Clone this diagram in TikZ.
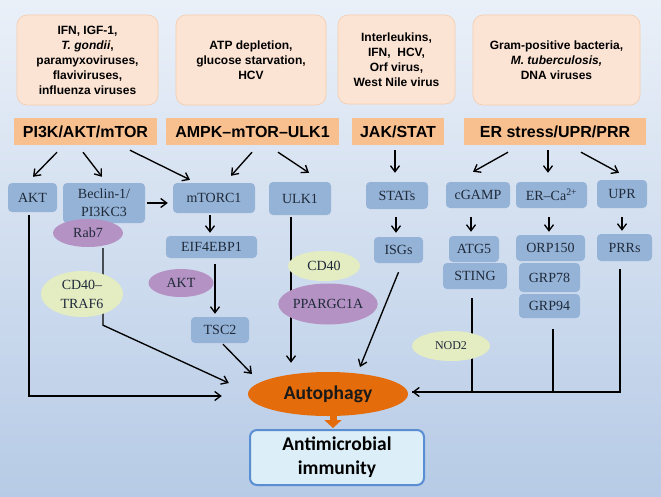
\documentclass[tikz,border=0pt]{standalone}
\usepackage{fontspec}
\setmainfont{Liberation Serif}
\newfontfamily\arialf{Liberation Sans}
\newfontfamily\calibf{Carlito}
\usetikzlibrary{arrows.meta,shapes.geometric}
\definecolor{bgtop}{HTML}{EAF0F8}
\definecolor{bgbot}{HTML}{B7CBE6}
\definecolor{srcfill}{HTML}{FCE4D4}
\definecolor{srcborder}{HTML}{F4CBAE}
\definecolor{barfill}{HTML}{F9C08F}
\definecolor{boxblue}{HTML}{95B3D7}
\definecolor{purp}{HTML}{B592C4}
\definecolor{ygreen}{HTML}{E4ECC2}
\definecolor{autoorange}{HTML}{E46C0A}
\definecolor{immfill}{HTML}{DCEEF7}
\definecolor{immborder}{HTML}{5A8ED3}
\definecolor{boxtext}{HTML}{1F2A3A}
\begin{document}
\begin{tikzpicture}[x=1pt,y=-1pt,
  src/.style={draw=srcborder, fill=srcfill, rounded corners=10pt, line width=0.6pt, align=center,
    font=\arialf\bfseries\fontsize{12}{15}\selectfont, inner sep=0pt},
  bar/.style={fill=barfill, font=\arialf\bfseries\fontsize{16}{19}\selectfont, inner sep=0pt},
  bbox/.style={fill=boxblue, rounded corners=4pt, font=\fontsize{14}{18}\selectfont, inner sep=0pt, align=center, text=boxtext},
  ellp/.style={ellipse, fill=purp, inner sep=0pt, font=\fontsize{14}{18}\selectfont, align=center, text=boxtext},
  elly/.style={ellipse, fill=ygreen, inner sep=0pt, font=\fontsize{14}{19}\selectfont, align=center, text=boxtext},
  arr/.style={-{Straight Barb[length=6pt,width=9pt]}, line width=1.35pt},
  ln/.style={line width=1.35pt}
]
\shade[top color=bgtop, bottom color=bgbot] (0,0) rectangle (661,496);
\useasboundingbox (0,0) rectangle (661,496);

% source boxes
\node[src, minimum width=141pt, minimum height=90pt] (s1) at (87.5,60)
  {IFN, IGF-1,\\\textit{T. gondii},\\paramyxoviruses,\\flaviviruses,\\influenza viruses};
\node[src, minimum width=150pt, minimum height=90pt] (s2) at (251,60)
  {ATP depletion,\\glucose starvation,\\HCV};
\node[src, minimum width=117pt, minimum height=89pt] (s3) at (396.5,59.5)
  {Interleukins,\\IFN,~~HCV,\\Orf virus,\\West Nile virus};
\node[src, minimum width=167pt, minimum height=90pt] (s4) at (556.5,60)
  {Gram-positive bacteria,\\\textit{M. tuberculosis,}\\DNA viruses};

% pathway bars
\node[bar, minimum width=143pt, minimum height=27pt] (b1) at (85.5,131.5) {PI3K/AKT/mTOR};
\node[bar, minimum width=173pt, minimum height=27pt] (b2) at (252.5,131.5) {AMPK–mTOR–ULK1};
\node[bar, minimum width=92pt, minimum height=27pt] (b3) at (398,131.5) {JAK/STAT};
\node[bar, minimum width=182pt, minimum height=27pt] (b4) at (555,131.5) {ER stress/UPR/PRR};

% blue boxes
\node[bbox, minimum width=49pt, minimum height=29pt] (akt) at (32.5,197.5) {AKT};
\node[bbox, minimum width=82pt, minimum height=40pt] (beclin) at (104,203) {Beclin-1/\\PI3KC3};
\node[bbox, minimum width=82pt, minimum height=30pt] (mtorc1) at (214,198) {mTORC1};
\node[bbox, minimum width=91pt, minimum height=22pt] (eif) at (211.5,247) {EIF4EBP1};
\node[bbox, minimum width=58pt, minimum height=26pt] (tsc2) at (220,330) {TSC2};
\node[bbox, minimum width=62pt, minimum height=33pt] (ulk1) at (300,198.5) {ULK1};
\node[bbox, minimum width=62pt, minimum height=27pt] (stats) at (397,195.5) {STATs};
\node[bbox, minimum width=49pt, minimum height=26pt] (isgs) at (398.5,250) {ISGs};
\node[bbox, minimum width=64pt, minimum height=26pt] (cgamp) at (478,195) {cGAMP};
\node[bbox, minimum width=71pt, minimum height=26pt] (erca) at (551.5,195) {ER–Ca\textsuperscript{2+}};
\node[bbox, minimum width=50pt, minimum height=28pt] (upr) at (622,194) {UPR};
\node[bbox, minimum width=50pt, minimum height=26pt] (atg5) at (474,249) {ATG5};
\node[bbox, minimum width=64pt, minimum height=26pt] (sting) at (475,276) {STING};
\node[bbox, minimum width=69pt, minimum height=26pt] (orp) at (550.5,248) {ORP150};
\node[bbox, minimum width=61pt, minimum height=29pt] (grp78) at (549.5,277.5) {GRP78};
\node[bbox, minimum width=61pt, minimum height=24pt] (grp94) at (549.5,306) {GRP94};
\node[bbox, minimum width=55pt, minimum height=27pt] (prrs) at (624.5,247.5) {PRRs};

% autophagy and immunity
\node[ellipse, fill=autoorange, minimum width=160pt, minimum height=44pt, inner sep=0pt,
  font=\calibf\bfseries\fontsize{19.5}{24}\selectfont, text=black!90] (auto) at (328,394) {Autophagy};
\node[draw=immborder, fill=immfill, line width=2pt, rounded corners=7pt, minimum width=174pt,
  minimum height=55pt, inner sep=0pt, align=center,
  font=\calibf\bfseries\fontsize{19.5}{24}\selectfont] (imm) at (337,457.5) {Antimicrobial\\immunity};
\draw[autoorange, line width=7pt, -{Triangle[length=8pt,width=17pt]}]
  ([xshift=5pt,yshift=1pt]auto.south) -- ([xshift=-4pt,yshift=1pt]imm.north);

% arrows from bars
\draw[arr] ([xshift=-28.5pt,yshift=-7pt]b1.south) -- ([xshift=0.5pt,yshift=6pt]akt.north);
\draw[arr] ([xshift=-2.5pt,yshift=-7pt]b1.south) -- ([xshift=-2pt,yshift=6pt]beclin.north);
\draw[arr] ([xshift=44.5pt,yshift=-5pt]b1.south) -- ([xshift=-24pt,yshift=3pt]mtorc1.north);
\draw[arr] ([xshift=-0.5pt,yshift=-7pt]b2.south) -- ([xshift=17pt,yshift=7pt]mtorc1.north);
\draw[arr] ([xshift=25.5pt,yshift=-7pt]b2.south) -- ([xshift=9pt,yshift=9pt]ulk1.north);
\draw[arr] ([xshift=-3pt,yshift=-5pt]b3.south) -- ([xshift=-2pt,yshift=9pt]stats.north);
\draw[arr] ([xshift=-47pt,yshift=-7pt]b4.south) -- ([xshift=-5pt,yshift=10pt]cgamp.north);
\draw[arr] ([xshift=-7pt,yshift=-5pt]b4.south) -- ([xshift=-3.5pt,yshift=9pt]erca.north);
\draw[arr] ([xshift=26pt,yshift=-7pt]b4.south) -- ([xshift=-3pt,yshift=7pt]upr.north);

% internal arrows
\draw[arr] ([xshift=2pt]beclin.east) -- ([xshift=-5pt,yshift=-5pt]mtorc1.west);
\draw[arr] ([xshift=-4pt,yshift=-2pt]mtorc1.south) -- ([xshift=-1.5pt,yshift=3pt]eif.north);
\draw[arr] ([xshift=3.5pt,yshift=-6pt]eif.south) -- ([xshift=-5pt,yshift=3pt]tsc2.north);
\draw[arr] ([xshift=-1pt,yshift=-8pt]stats.south) -- ([xshift=-2.5pt,yshift=4pt]isgs.north);
\draw[arr] ([xshift=-7pt,yshift=-9pt]cgamp.south) -- ([xshift=-3pt,yshift=4pt]atg5.north);
\draw[arr] ([xshift=-2.5pt,yshift=-9pt]erca.south) -- ([xshift=-1.5pt,yshift=3pt]orp.north);
\draw[arr] ([yshift=-9pt]upr.south) -- ([xshift=-2.5pt,yshift=3pt]prrs.north);

% lines into autophagy
\coordinate (rbus) at ([xshift=4pt,yshift=2pt]auto.east);
\draw[arr] ([xshift=-3.5pt,yshift=-3pt]akt.south) |- ([xshift=-26pt,yshift=-2pt]auto.west);
\draw[arr] ([xshift=3pt,yshift=-1pt]tsc2.south) -- ([xshift=-76pt,yshift=20pt]auto.center);
\draw[arr] ([xshift=-9pt,yshift=-2pt]ulk1.south) -- ([xshift=-37pt,yshift=9pt]auto.north);
\draw[arr] ([yshift=-9pt]isgs.south) -- ([xshift=32pt,yshift=27pt]auto.center);
\draw[arr] ([xshift=-4.5pt,yshift=-8pt]prrs.south) |- (rbus);
\draw[ln] ([xshift=-3pt,yshift=-9pt]sting.south) |- (rbus);
\draw[ln] ([xshift=3.5pt,yshift=-11pt]grp94.south) |- (rbus);

% ellipses
\node[ellp, minimum width=70pt, minimum height=28pt] (rab7) at (88,233) {Rab7};
\draw[arr] ([xshift=15pt,yshift=-1pt]rab7.south) -- ++(0,77) -- ([xshift=-19pt,yshift=11pt]auto.west);
\node[elly, minimum width=82pt, minimum height=46pt] (cdtraf) at (82,294) {CD40–\\TRAF6};
\node[ellp, minimum width=65pt, minimum height=28pt] (akte) at (181,283) {AKT};
\node[elly, minimum width=72pt, minimum height=30pt] (cd40) at (324,266) {CD40};
\node[ellp, minimum width=99pt, minimum height=41pt] (ppar) at (328,304) {PPARGC1A};
\node[elly, minimum width=78pt, minimum height=30pt, font=\fontsize{12}{14}\selectfont] (nod2) at (451,346) {NOD2};
\end{tikzpicture}
\end{document}
